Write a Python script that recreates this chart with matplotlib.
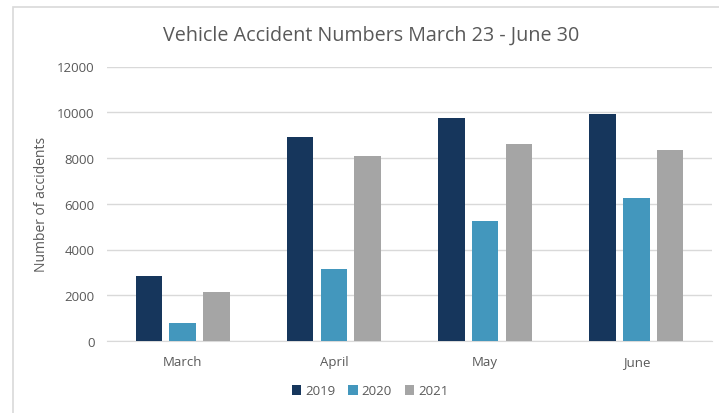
import matplotlib
matplotlib.use("Agg")
import matplotlib.pyplot as plt
import numpy as np
from matplotlib.patches import Rectangle

months = ["March", "April", "May", "June"]
years = ["2019", "2020", "2021"]
v2019 = [2840, 8920, 9770, 9940]
v2020 = [780, 3140, 5250, 6260]
v2021 = [2150, 8100, 8600, 8350]
yticks = [0, 2000, 4000, 6000, 8000, 10000, 12000]

colors = ["#16365C", "#4397BD", "#A5A5A5"]
txt = "#595959"
plt.rcParams['font.family'] = ['Open Sans', 'DejaVu Sans']

fig = plt.figure(figsize=(7.19, 4.14), dpi=100)
W, H = 719, 414
# outer chart border
fig.patches.append(Rectangle((12.5 / W, -0.1), 1.0, (414 - 7.5) / H + 0.1,
                             transform=fig.transFigure, fill=False,
                             edgecolor="#D9D9D9", linewidth=1.2))

ax = fig.add_axes([107 / W, (414 - 342) / H, (712 - 107) / W, (342 - 67.5) / H])
x = np.arange(len(months))
bw = 0.175
step = 0.223
for i, (vals, c, lab) in enumerate(zip([v2019, v2020, v2021], colors, years)):
    ax.bar(x + (i - 1) * step, vals, width=bw, color=c, label=lab, zorder=3)

ax.set_xlim(-0.5, len(months) - 0.5)
ax.set_ylim(0, 12000)
ax.set_yticks(yticks)
ax.set_yticklabels([str(t) for t in yticks], color=txt, fontsize=9.5)
ax.set_xticks(x)
ax.set_xticklabels(months, color=txt, fontsize=9.5)
ax.tick_params(length=0, pad=9)
ax.tick_params(axis='x', pad=10)
ax.grid(axis='y', color="#D9D9D9", linewidth=1, zorder=0)
for s in ["top", "right", "left"]:
    ax.spines[s].set_visible(False)
ax.spines["bottom"].set_color("#D9D9D9")
ax.set_ylabel("Number of accidents", color=txt, fontsize=10, labelpad=6)

fig.text(371 / W, 1 - 36 / H, "Vehicle Accident Numbers March 23 - June 30",
         ha="center", va="center", fontsize=14.2, color=txt)

leg = fig.legend(loc="center", bbox_to_anchor=(370 / W, 1 - 392 / H), ncol=3,
                 frameon=False, fontsize=9.5, handlelength=0.7, handleheight=0.7,
                 handletextpad=0.3, columnspacing=1.0)
for t in leg.get_texts():
    t.set_color(txt)

fig.savefig("out.png", dpi=100)
